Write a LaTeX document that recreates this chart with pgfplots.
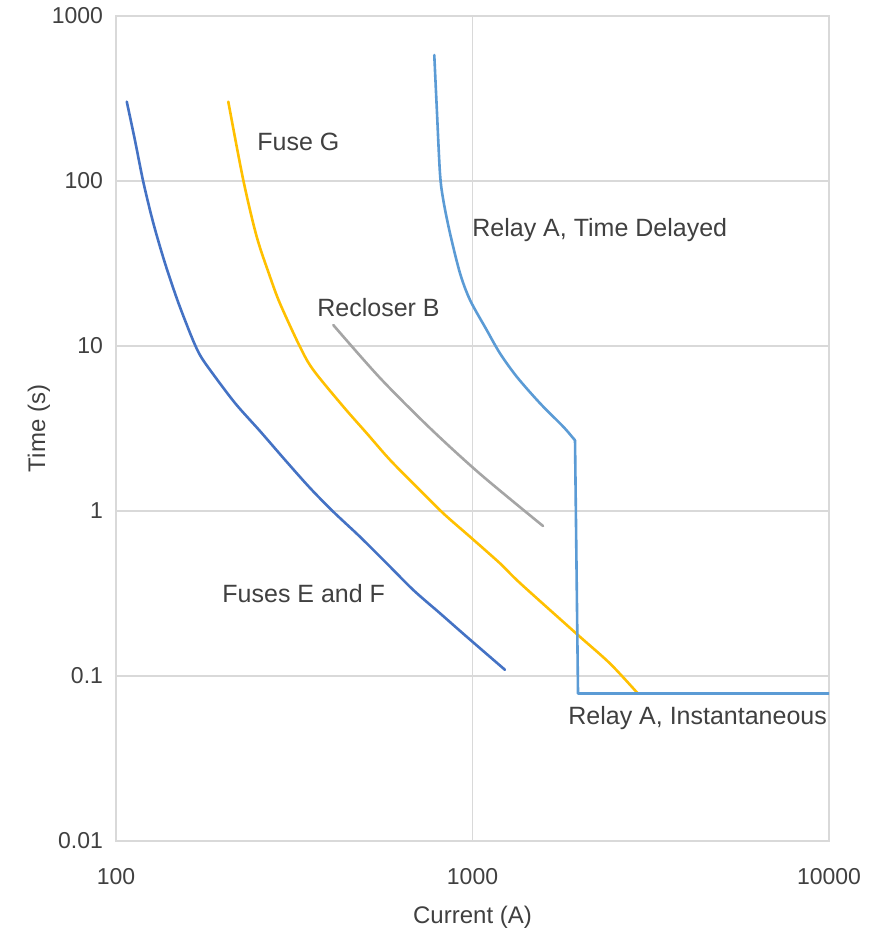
\documentclass[border=0pt]{standalone}
\usepackage{fontspec}
\setmainfont{Liberation Sans}
\usepackage{pgfplots}
\pgfplotsset{compat=1.18}
\definecolor{fuseEF}{HTML}{4472C4}
\definecolor{fuseG}{HTML}{FFC000}
\definecolor{reclB}{HTML}{A5A5A5}
\definecolor{relayA}{HTML}{5B9BD5}
\definecolor{gridc}{HTML}{D9D9D9}
\definecolor{txt}{HTML}{404040}

\begin{document}
\begin{tikzpicture}
\begin{axis}[scale only axis,width=356.5pt,height=412.5pt,
  xmode=log,ymode=log,xmin=100,xmax=10000,ymin=0.01,ymax=1000,
  xtick={100,1000,10000},xticklabels={100,1000,10000},
  ytick={0.01,0.1,1,10,100,1000},yticklabels={0.01,0.1,1,10,100,1000},
  xminorticks=false,yminorticks=false,major tick length=0,
  grid=major,major grid style={draw=gridc,line width=0.75pt},
  axis line style={draw=gridc,line width=0.75pt},
  tick label style={font=\fontsize{11.5}{13}\selectfont,text=txt},
  xticklabel style={yshift=-10pt},yticklabel style={xshift=-3pt},
  xlabel={Current (A)},ylabel={Time (s)},
  label style={font=\fontsize{12}{14}\selectfont,text=txt},
  xlabel style={yshift=-4pt},ylabel style={yshift=-6pt},
  every axis plot/.append style={line width=1.3pt,line join=round,line cap=round}]
% Fuses E and F
\addplot[fuseEF,smooth,tension=0.5] coordinates {(107.2,302.6) (113.0,177) (119.3,98.6) (127.3,55.4) (137.2,31.8) (149.3,18.5) (163.4,11.2) (172.0,8.82) (183.6,7.16) (215.7,4.51) (253.5,3.05) (297.9,2.04) (350.0,1.38) (406.9,0.99) (483.5,0.698) (574.5,0.482) (682.3,0.332) (810.6,0.240) (963.2,0.173) (1233.5,0.109)};
% Fuse G
\addplot[fuseG,smooth,tension=0.5] coordinates {(206.5,302.6) (227.5,101.4) (248.1,46.0) (270.4,26.3) (288.4,18.1) (328.1,9.9) (357.6,7.16) (434.2,4.29) (505.0,2.96) (587.0,2.04) (697.4,1.40) (828.0,0.968) (984.1,0.698) (1194,0.482) (1359,0.366) (1960,0.180) (2431,0.119) (2918,0.0778)};
% Recloser B
\addplot[reclB,smooth,tension=0.5] coordinates {(406.9,13.4) (550.3,6.40) (759.9,3.18) (1049.5,1.68) (1577,0.811)};
% Relay A, time delayed part
\addplot[relayA,smooth,tension=0.5] coordinates {(781.4,580) (793.7,282) (810.6,111) (828.0,76.7) (864.8,48.2) (922.6,27.6) (984.1,19.0) (1096,12.5) (1194,9.03) (1331,6.51) (1546,4.50) (1798,3.24) (1917,2.76) (1939,2.69)};
% Relay A, instantaneous part
\addplot[relayA] coordinates {(1939,2.69) (1977,0.0783) (10000,0.0783)};
\begin{scope}[font=\fontsize{12.5}{14}\selectfont,text=txt]
\node[anchor=west,inner sep=0pt] at (axis cs:248.7,172.3) {Fuse G};
\node[anchor=west,inner sep=0pt] at (axis cs:996.8,50.5) {Relay A, Time Delayed};
\node[anchor=west,inner sep=0pt] at (axis cs:366.3,17.2) {Recloser B};
\node[anchor=west,inner sep=0pt] at (axis cs:198.4,0.318) {Fuses E and F};
\node[anchor=west,inner sep=0pt] at (axis cs:1853,0.0556) {Relay A, Instantaneous};
\end{scope}
\coordinate (ll) at (rel axis cs:0,0);
\coordinate (ur) at (rel axis cs:1,1);
\end{axis}
\pgfresetboundingbox
\path[use as bounding box] ([xshift=-58pt,yshift=-46.5pt]ll) rectangle ([xshift=30pt,yshift=8pt]ur);
\end{tikzpicture}
\end{document}
